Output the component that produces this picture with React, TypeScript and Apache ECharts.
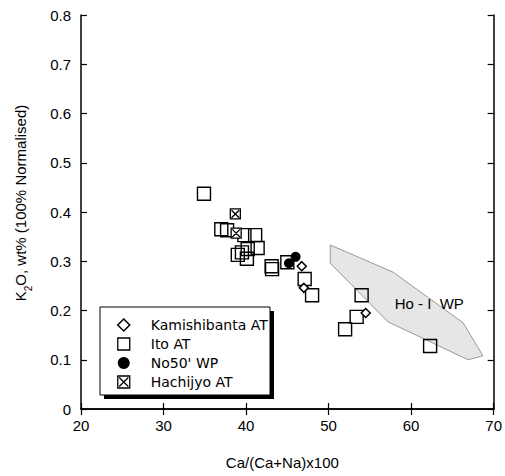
import React, { useEffect, useRef } from "react";
import * as echarts from "echarts";

// Data
const kamishibanta: number[][] = [
  [46.75, 0.29],
  [47.0, 0.246],
  [54.5, 0.195],
];

const itoAT: number[][] = [
  [34.9, 0.437],
  [37.0, 0.365],
  [37.7, 0.363],
  [39.8, 0.353],
  [41.1, 0.353],
  [39.0, 0.313],
  [40.2, 0.325],
  [41.4, 0.327],
  [40.1, 0.305],
  [39.5, 0.318],
  [43.1, 0.29],
  [43.15, 0.284],
  [45.0, 0.298],
  [47.1, 0.264],
  [48.0, 0.231],
  [54.0, 0.231],
  [53.4, 0.187],
  [52.0, 0.162],
  [62.3, 0.128],
];

const no50WP: number[][] = [
  [46.0, 0.309],
  [45.2, 0.296],
];

const hachijyo: number[][] = [
  [38.7, 0.396],
  [38.8, 0.357],
];

const hoIWPPolygon: number[][] = [
  [50.2, 0.333],
  [57.8, 0.278],
  [66.3, 0.175],
  [68.7, 0.108],
  [66.9, 0.1],
  [57.2, 0.177],
  [50.2, 0.296],
];
const hoIWPLabel = { text: "Ho - I  WP", pos: [62.2, 0.215] };

const xAxisRange = { min: 20, max: 70, interval: 10 };
const yAxisRange = { min: 0, max: 0.8, interval: 0.1 };

const FONT = "Liberation Sans, Arial, Helvetica, sans-serif";
const LEGEND_FONT = "DejaVu Sans, sans-serif";
const hachiPath = "path://M0,0L10,0L10,10L0,10Z M1.2,1.2L8.8,8.8 M8.8,1.2L1.2,8.8";

export default function App() {
  const ref = useRef<HTMLDivElement>(null);
  useEffect(() => {
    if (!ref.current) return;
    const chart = echarts.init(ref.current, undefined, { renderer: "svg" });
    const axisLine = { show: true, lineStyle: { color: "#000", width: 1.5 } };
    const axisTick = { show: true, inside: true, length: 6, lineStyle: { color: "#000", width: 1.2 } };
    const option: any = {
      animation: false,
      backgroundColor: "#fff",
      grid: { left: 81, right: 9, top: 15, bottom: 67, containLabel: false },
      xAxis: [
        {
          type: "value",
          position: "bottom",
          ...xAxisRange,
          axisLine,
          axisTick,
          splitLine: { show: false },
          axisLabel: { color: "#000", fontSize: 15, fontFamily: FONT, margin: 9 },
          name: "Ca/(Ca+Na)x100",
          nameLocation: "middle",
          nameGap: 46,
          nameTextStyle: { color: "#000", fontSize: 15, fontFamily: FONT, padding: [0, 10, 0, 0] },
        },
        {
          type: "value",
          position: "top",
          ...xAxisRange,
          axisLine,
          axisTick,
          splitLine: { show: false },
          axisLabel: { show: false },
        },
      ],
      yAxis: [
        {
          type: "value",
          position: "left",
          ...yAxisRange,
          axisLine,
          axisTick,
          splitLine: { show: false },
          axisLabel: {
            color: "#000",
            fontSize: 15,
            fontFamily: FONT,
            margin: 10,
            formatter: (v: number) => (v === 0 ? "0" : v.toFixed(1)),
          },
          name: "{a|K}{s|2}{a|O, wt% (100% Normalised)}",
          nameLocation: "middle",
          nameGap: 53,
          nameTextStyle: {
            color: "#000",
            fontFamily: FONT,
            fontSize: 15,
            padding: [0, 0, 0, 18],
            rich: {
              a: { fontSize: 15, fontFamily: FONT, color: "#000", lineHeight: 18, verticalAlign: "bottom" },
              s: { fontSize: 10, fontFamily: FONT, color: "#000", lineHeight: 12, verticalAlign: "bottom", padding: [0, 0, -5, 0] },
            },
          },
        },
        {
          type: "value",
          position: "right",
          ...yAxisRange,
          axisLine,
          axisTick,
          splitLine: { show: false },
          axisLabel: { show: false },
        },
      ],
      legend: {
        orient: "vertical",
        left: 117,
        top: 318,
        padding: 0,
        itemWidth: 12,
        itemHeight: 12,
        itemGap: 5,
        z: 10,
        textStyle: { color: "#000", fontSize: 14, fontFamily: LEGEND_FONT, padding: [0, 0, 0, 16] },
        data: [
          { name: "Kamishibanta AT", icon: "diamond", itemStyle: { color: "#fff", borderColor: "#000", borderWidth: 1.5 } },
          { name: "Ito AT", icon: "rect", itemStyle: { color: "#fff", borderColor: "#000", borderWidth: 1.3 } },
          { name: "No50' WP", icon: "circle", itemStyle: { color: "#000", borderColor: "#000", borderWidth: 0 } },
          { name: "Hachijyo AT", icon: hachiPath, itemStyle: { color: "#fff", borderColor: "#000", borderWidth: 1.3 } },
        ],
      },
      graphic: [
        { type: "rect", z: 8, shape: { x: 104, y: 311, width: 170, height: 88 }, style: { fill: "#000" } },
        { type: "rect", z: 9, shape: { x: 100, y: 307, width: 170, height: 88 }, style: { fill: "#fff", stroke: "#000", lineWidth: 1 } },
      ],
      series: [
        {
          type: "custom",
          name: "Ho-I WP",
          silent: true,
          z: 1,
          data: [hoIWPLabel.pos],
          renderItem: (_p: any, api: any) => {
            const pts = hoIWPPolygon.map((p) => api.coord(p));
            const lp = api.coord(hoIWPLabel.pos);
            return {
              type: "group",
              children: [
                { type: "polygon", shape: { points: pts }, style: { fill: "#e6e6e6", stroke: "#999", lineWidth: 1 } },
                {
                  type: "text",
                  x: lp[0],
                  y: lp[1],
                  style: { text: hoIWPLabel.text, fill: "#000", fontSize: 15, fontFamily: FONT, align: "center", verticalAlign: "middle" },
                },
              ],
            };
          },
        },
        {
          type: "scatter",
          name: "Ito AT",
          data: itoAT,
          symbol: "rect",
          symbolSize: 13,
          z: 3,
          itemStyle: { color: "rgba(255,255,255,0)", borderColor: "#000", borderWidth: 1.4, opacity: 1 },
        },
        {
          type: "scatter",
          name: "Hachijyo AT",
          data: hachijyo,
          symbol: hachiPath,
          symbolSize: 10,
          z: 4,
          itemStyle: { color: "#fff", borderColor: "#000", borderWidth: 1.3, opacity: 1 },
        },
        {
          type: "scatter",
          name: "No50' WP",
          data: no50WP,
          symbol: "circle",
          symbolSize: 10,
          z: 4,
          itemStyle: { color: "#000", opacity: 1 },
        },
        {
          type: "scatter",
          name: "Kamishibanta AT",
          data: kamishibanta,
          symbol: "diamond",
          symbolSize: 9,
          z: 5,
          itemStyle: { color: "#fff", borderColor: "#000", borderWidth: 1.5, opacity: 1 },
        },
      ],
    };
    chart.setOption(option);
    return () => chart.dispose();
  }, []);
  return <div ref={ref} style={{ position: "absolute", left: 0, top: 0, width: 505, height: 476 }} />;
}
